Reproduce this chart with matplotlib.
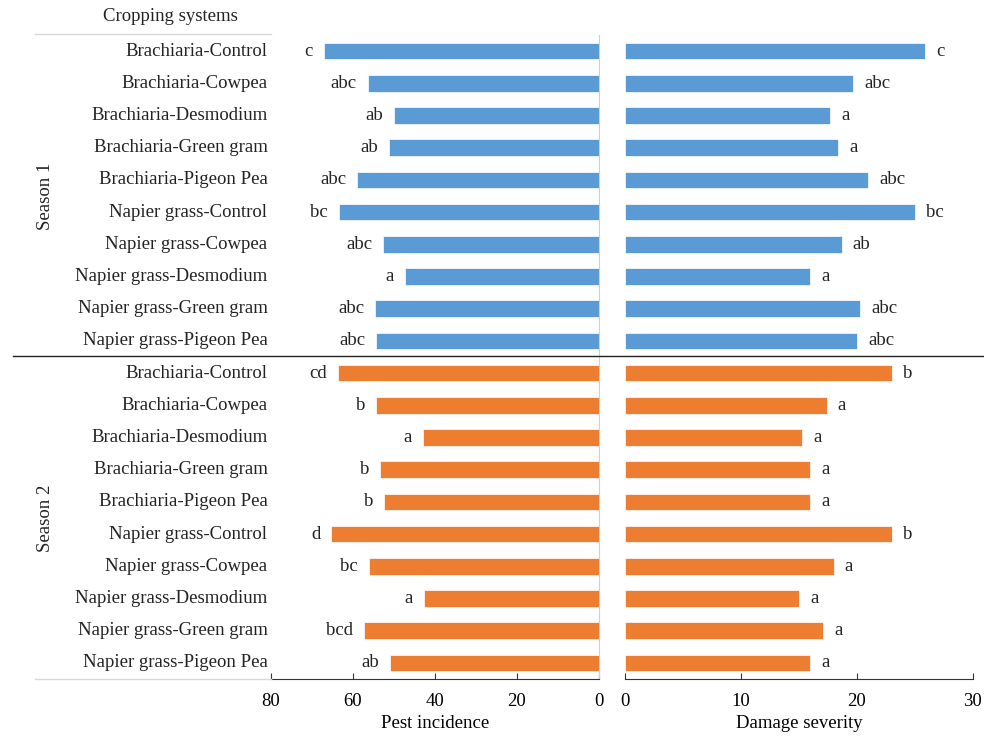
import matplotlib.pyplot as plt
import numpy as np

plt.rcParams['font.family'] = ['Liberation Serif', 'DejaVu Serif']

systems = ["Brachiaria-Control", "Brachiaria-Cowpea", "Brachiaria-Desmodium",
           "Brachiaria-Green gram", "Brachiaria-Pigeon Pea", "Napier grass-Control",
           "Napier grass-Cowpea", "Napier grass-Desmodium", "Napier grass-Green gram",
           "Napier grass-Pigeon Pea"]

# pest incidence (%)
pest_s1 = [67.1, 56.4, 49.9, 51.1, 58.9, 63.3, 52.6, 47.2, 54.5, 54.3]
pest_s2 = [63.7, 54.3, 42.8, 53.3, 52.3, 65.2, 56.0, 42.6, 57.2, 50.9]
pest_let_s1 = ["c", "abc", "ab", "ab", "abc", "bc", "abc", "a", "abc", "abc"]
pest_let_s2 = ["cd", "b", "a", "b", "b", "d", "bc", "a", "bcd", "ab"]

# damage severity
dmg_s1 = [25.9, 19.7, 17.7, 18.4, 21.0, 25.0, 18.7, 16.0, 20.3, 20.0]
dmg_s2 = [23.0, 17.4, 15.3, 16.0, 16.0, 23.0, 18.0, 15.0, 17.1, 16.0]
dmg_let_s1 = ["c", "abc", "a", "a", "abc", "bc", "ab", "a", "abc", "abc"]
dmg_let_s2 = ["b", "a", "a", "a", "a", "b", "a", "a", "a", "a"]

blue = "#5B9BD5"
orange = "#ED7D31"
fs = 13.5

n = len(systems)
pos = np.arange(2 * n)
labels = systems + systems
pest = pest_s1 + pest_s2
dmg = dmg_s1 + dmg_s2
pest_let = pest_let_s1 + pest_let_s2
dmg_let = dmg_let_s1 + dmg_let_s2
colors = [blue] * n + [orange] * n

fig = plt.figure(figsize=(9.84, 7.37), dpi=100)
bottom, top = 0.0787, 0.9525
axL = fig.add_axes([0.2751, bottom, 0.3336, top - bottom])
axR = fig.add_axes([0.6352, bottom, 0.3533, top - bottom])

axL.barh(pos, pest, height=0.52, color=colors, edgecolor="white", linewidth=0.5)
axR.barh(pos, dmg, height=0.52, color=colors, edgecolor="white", linewidth=0.5)

for i in range(2 * n):
    axL.annotate(pest_let[i], (pest[i], pos[i]), xytext=(-8, 0), textcoords="offset points",
                 ha="right", va="center", fontsize=fs, color="#222222")
    axR.annotate(dmg_let[i], (dmg[i], pos[i]), xytext=(8, 0), textcoords="offset points",
                 ha="left", va="center", fontsize=fs, color="#222222")

for ax in (axL, axR):
    ax.set_ylim(2 * n - 0.5, -0.5)
    ax.set_yticks([])
    for s in ("top", "left", "right"):
        ax.spines[s].set_visible(False)
    ax.spines["bottom"].set_color("#333333")
    ax.tick_params(axis="x", direction="in", length=4, labelsize=fs, pad=10, color="#333333")

axL.set_xlim(80, 0)
axL.set_xticks([80, 60, 40, 20, 0])
axL.spines["right"].set_visible(True)
axL.spines["right"].set_color("#d0d0d0")
axL.set_xlabel("Pest incidence", fontsize=fs, labelpad=4)

axR.set_xlim(0, 30)
axR.set_xticks([0, 10, 20, 30])
axR.set_xlabel("Damage severity", fontsize=fs, labelpad=4)

# category names on the left
for i in range(2 * n):
    axL.text(-0.01, pos[i], labels[i], transform=axL.get_yaxis_transform(),
             ha="right", va="center", fontsize=fs, color="#222222")

fig.text(0.173, 0.977, "Cropping systems", ha="center", va="center", fontsize=fs, color="#222222")
fig.text(0.046, 0.733, "Season 1", rotation=90, ha="center", va="center", fontsize=fs, color="#222222")
fig.text(0.046, 0.297, "Season 2", rotation=90, ha="center", va="center", fontsize=fs, color="#222222")

# table rules
fig.add_artist(plt.Line2D([0.036, 0.2751], [0.954, 0.954], color="#d8d8d8", lw=1))
fig.add_artist(plt.Line2D([0.036, 0.2751], [0.079, 0.079], color="#d8d8d8", lw=1))
fig.add_artist(plt.Line2D([0.013, 1.0], [0.517, 0.517], color="#222222", lw=1))

fig.savefig("out.png", dpi=100)
